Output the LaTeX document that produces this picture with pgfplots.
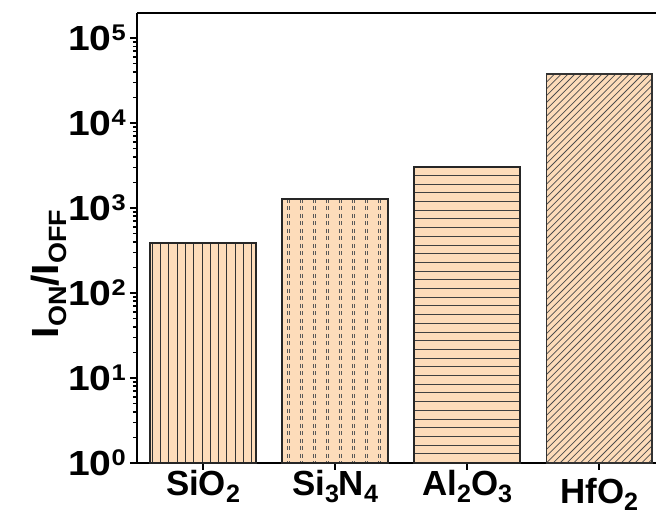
\documentclass[border=0pt]{standalone}
\usepackage{pgfplots}
\pgfplotsset{compat=1.18}
\usepackage{fontspec}
\setmainfont{Liberation Sans}
\definecolor{peach}{RGB}{253,220,186}
\newcommand\sub[2][0.72]{\raisebox{-0.2em}{\scalebox{#1}{#2}}}
\newcommand\sups[1]{\raisebox{0.3em}{\scalebox{0.65}{#1}}}
\newcommand\tl[1]{\scalebox{1.12}[1]{10\sups{#1}}}
\newcommand\getbb{%
  \pgfpointanchor{path picture bounding box}{south west}\pgfgetlastxy{\xa}{\ya}%
  \pgfpointanchor{path picture bounding box}{north east}\pgfgetlastxy{\xb}{\yb}}
\tikzset{
  vhatch/.style={path picture={\getbb\pgfsetlinewidth{0.9bp}\pgfsetstrokecolor{black!80}%
    \foreach \i in {0,...,13}{\pgfpathmoveto{\pgfpoint{\xa+\i*8.3bp+2bp}{\ya}}\pgfpathlineto{\pgfpoint{\xa+\i*8.3bp+2bp}{\yb}}\pgfusepath{stroke}}}},
  dhatch/.style={path picture={\getbb\pgfsetlinewidth{0.7bp}\pgfsetstrokecolor{black!65}\pgfsetdash{{4bp}{3.5bp}}{0bp}%
    \foreach \i in {0,...,8}{\pgfpathmoveto{\pgfpoint{\xa+\i*13bp+5bp}{\yb}}\pgfpathlineto{\pgfpoint{\xa+\i*13bp+5bp}{\ya}}\pgfusepath{stroke}%
      \pgfpathmoveto{\pgfpoint{\xa+\i*13bp+7.3bp}{\yb}}\pgfpathlineto{\pgfpoint{\xa+\i*13bp+7.3bp}{\ya}}\pgfusepath{stroke}}}},
  hhatch/.style={path picture={\getbb\pgfsetlinewidth{1bp}\pgfsetstrokecolor{black!75}%
    \foreach \i in {1,...,35}{\pgfpathmoveto{\pgfpoint{\xa}{\yb-\i*8.7bp}}\pgfpathlineto{\pgfpoint{\xb}{\yb-\i*8.7bp}}\pgfusepath{stroke}}}},
  ahatch/.style={path picture={\getbb\pgfsetlinewidth{0.75bp}\pgfsetstrokecolor{black!70}%
    \foreach \i in {-62,...,17}{\pgfpathmoveto{\pgfpoint{\xa+\i*6.8bp}{\ya}}\pgfpathlineto{\pgfpoint{\xa+\i*6.8bp+450bp}{\ya+450bp}}\pgfusepath{stroke}}}},
}
\begin{document}
\begin{tikzpicture}
\begin{axis}[
  scale only axis, width=519bp, height=450bp,
  xmin=-0.5, xmax=3.43, ymin=1, ymax=1.97e5, ymode=log,
  axis y line*=left,
  axis line style={line width=2bp},
  xtick pos=left, ytick pos=left,
  tick align=outside,
  major tick length=7bp, minor tick length=4bp,
  every tick/.style={line width=1.5bp, black},
  xtick={0,1,2,3},
  xticklabels={SiO\sub{2}, Si\sub{3}N\sub{4}, Al\sub{2}O\sub{3}, \raisebox{0pt}[\dimexpr\height+8bp\relax]{HfO\sub{2}}},
  xticklabel style={font=\fontsize{35}{35}\selectfont\bfseries, inner sep=0pt, anchor=north},
  ytick={1,10,100,1000,10000,100000},
  yticklabels={\tl{0},\tl{1},\tl{2},\tl{3},\tl{4},\tl{5}},
  minor ytick={2,3,4,5,6,7,8,9,20,30,40,50,60,70,80,90,200,300,400,500,600,700,800,900,2000,3000,4000,5000,6000,7000,8000,9000,20000,30000,40000,50000,60000,70000,80000,90000},
  yticklabel style={font=\fontsize{35}{35}\selectfont\bfseries, inner sep=0pt, anchor=east, xshift=-4bp},
  ylabel={\scalebox{1.08}[1]{I\sub[0.66]{ON}/I\sub[0.66]{OFF}}},
  ylabel style={font=\fontsize{38}{38}\selectfont\bfseries, at={(axis description cs:-0.17,0.42)}, anchor=center},
  ybar, bar width=0.8,
]
\addplot[bar shift=0pt, fill=peach, draw=none, vhatch,
  postaction={draw=black!85, line width=1.7bp}] coordinates {(0,385)};
\addplot[bar shift=0pt, fill=peach, draw=none, dhatch,
  postaction={draw=black!85, line width=1.7bp}] coordinates {(1,1277)};
\addplot[bar shift=0pt, fill=peach, draw=none, hhatch,
  postaction={draw=black!85, line width=1.7bp}] coordinates {(2,3060)};
\addplot[bar shift=0pt, fill=peach, draw=none, ahatch,
  postaction={draw=black!80, line width=1.7bp}] coordinates {(3,37700)};
\end{axis}
\pgfresetboundingbox
\useasboundingbox ([xshift=-137bp,yshift=-54.5bp]current axis.south west) rectangle ([yshift=13bp]current axis.north east);
\end{tikzpicture}
\end{document}
